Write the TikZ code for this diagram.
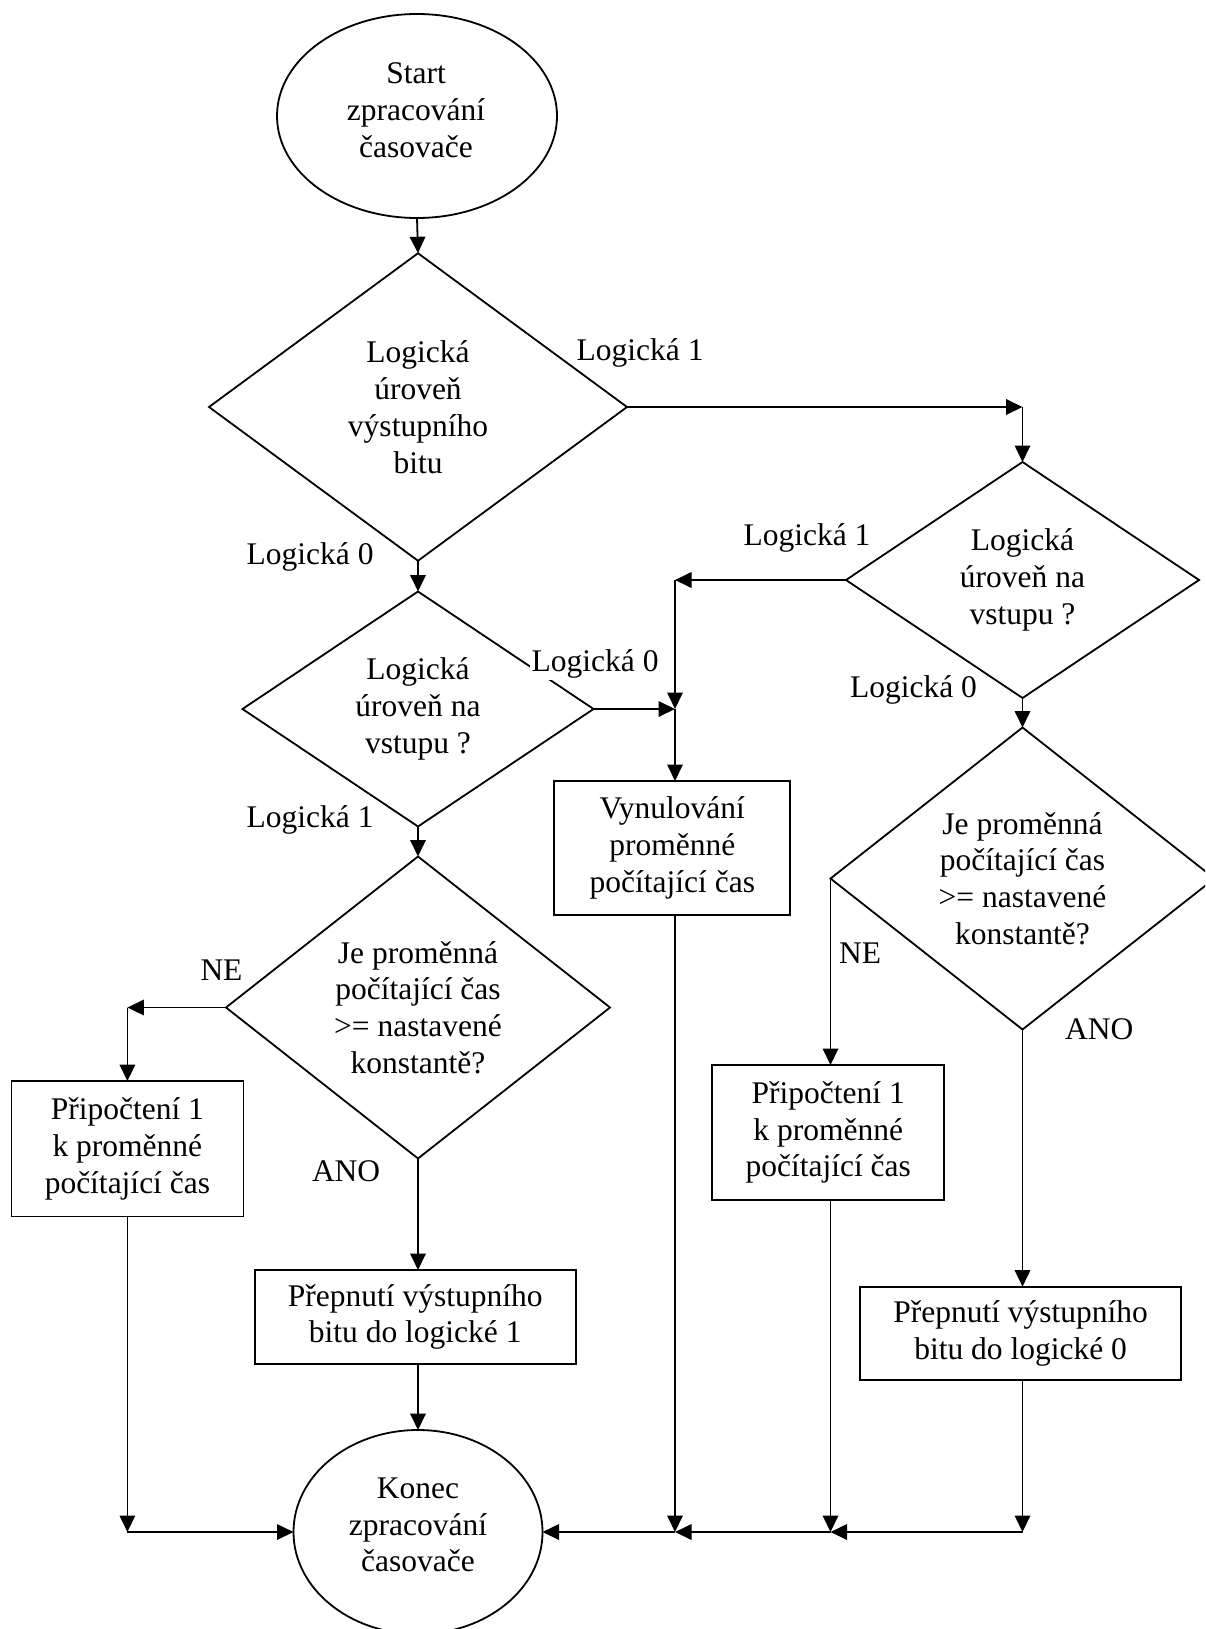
\documentclass[tikz,border=0pt]{standalone}
\usepackage{fontspec}
\setmainfont{Liberation Serif}
\usetikzlibrary{shapes.geometric,arrows.meta}

\begin{document}
\begin{tikzpicture}[x=1pt,y=-1pt,
  every node/.style={font=\fontsize{31.5}{36.8}\selectfont, outer sep=0pt},
  arr/.style={line width=1.8pt,-{Triangle[length=16.5pt,width=15.5pt]}},
  decision/.style={draw, line width=1.8pt, diamond, inner sep=0pt, align=center},
  process/.style={draw, line width=1.8pt, rectangle, inner sep=0pt, align=center},
  terminal/.style={draw, line width=1.8pt, ellipse, inner sep=0pt},
  txt/.style={inner sep=0pt, align=center},
  lbl/.style={inner sep=0pt, anchor=west}
]
\useasboundingbox (0,0) rectangle (1205,1629);
\path[clip] (0,0) rectangle (1205,1629);

% start / end terminals
\node[terminal, minimum width=280pt, minimum height=204pt] (start) at (417,116) {};
\node[txt] (starttext) at (416,110) {Start\\zpracování\\časovače};
\node[terminal, minimum width=249pt, minimum height=204pt] (konec) at (418,1532) {};
\node[txt] (konectext) at (418,1525) {Konec\\zpracování\\časovače};

% decisions
\node[decision, minimum width=418pt, minimum height=307.5pt] (d1) at (418,407)
  {Logická\\úroveň\\výstupního\\bitu};
\node[decision, minimum width=351pt, minimum height=235pt] (d3) at (418,709)
  {Logická\\úroveň na\\vstupu ?};
\node[decision, minimum width=384pt, minimum height=302pt] (d4) at (418,1007.5)
  {Je proměnná\\počítající čas\\>= nastavené\\konstantě?};
\node[decision, minimum width=353pt, minimum height=236pt] (d5) at (1022.5,580)
  {Logická\\úroveň na\\vstupu ?};
\node[decision, minimum width=384pt, minimum height=302pt] (d6) at (1022.5,878.5)
  {Je proměnná\\počítající čas\\>= nastavené\\konstantě?};

% processes
\node[process, minimum width=236pt, minimum height=134pt] (reset) at (672.3,848)
  {Vynulování\\proměnné\\počítající čas};
\node[process, minimum width=232pt, minimum height=135.5pt] (incL) at (127.4,1148.8)
  {Připočtení 1\\k proměnné\\počítající čas};
\node[process, minimum width=321pt, minimum height=94pt] (set1) at (415.2,1317)
  {Přepnutí výstupního\\bitu do logické 1};
\node[process, minimum width=232pt, minimum height=135pt] (incR) at (828.2,1132.5)
  {Připočtení 1\\k proměnné\\počítající čas};
\node[process, minimum width=321.5pt, minimum height=93.3pt] (set0) at (1020.6,1333.3)
  {Přepnutí výstupního\\bitu do logické 0};

% bends and joints of the connectors
\coordinate (c1) at (d5.north |- d1.east);
\coordinate (jx) at (675,709);
\coordinate (c2) at (jx |- d5.west);
\coordinate (jb) at (jx |- konec.east);
\coordinate (c3) at (incL.north |- d4.west);
\coordinate (kb) at (incL.south |- konec.west);
\coordinate (rb1) at (d6.west |- konec.east);
\coordinate (rb2) at (d6.south |- konec.east);

% connectors
\draw[arr] (start.south) -- (d1.north);
\draw[arr] (d1.east) -- (c1);
\draw[arr] (c1) -- (d5.north);
\draw[arr] (d1.south) -- (d3.north);
\draw[arr] (d5.west) -- (c2);
\draw[arr] (c2) -- (jx);
\draw[arr] (d3.east) -- (jx);
\draw[arr] (jx) -- (jx |- reset.north);
\draw[arr] (d3.south) -- (d4.north);
\draw[arr] (d4.west) -- (c3);
\draw[arr] (c3) -- (incL.north);
\draw[arr] (d4.south) -- (d4.south |- set1.north);
\draw[arr] (d4.south |- set1.south) -- (konec.north);
\draw[arr] (incL.south) -- (kb);
\draw[arr] (kb) -- (konec.west);
\draw[arr] (jx |- reset.south) -- (jb);
\draw[arr] (d5.south) -- (d6.north);
\draw[arr] (d6.west) -- (d6.west |- incR.north);
\draw[arr] (d6.south) -- (d6.south |- set0.north);
\draw[arr] (d6.west |- incR.south) -- (rb1);
\draw[arr] (d6.south |- set0.south) -- (rb2);
\draw[arr] (rb2) -- (rb1);
\draw[arr] (rb1) -- (jb);
\draw[arr] (jb) -- (konec.east);

% branch labels
\node[lbl] (l1) at (576.7,353) {Logická 1};
\node[lbl] (l2) at (246.7,556.7) {Logická 0};
\node[lbl] (l3) at (743.5,538) {Logická 1};
\node[lbl] (l5) at (850,689.7) {Logická 0};
\node[lbl] (l6) at (246.7,820) {Logická 1};
\node[lbl] (ne1) at (200.5,970) {NE};
\node[lbl] (ano1) at (312,1171.4) {ANO};
\node[lbl] (ne2) at (839,952.7) {NE};
\node[lbl] (ano2) at (1065,1029.6) {ANO};
\node[lbl, fill=white, inner sep=2pt] (l4) at (529.7,663.5) {Logická 0};
\end{tikzpicture}
\end{document}
